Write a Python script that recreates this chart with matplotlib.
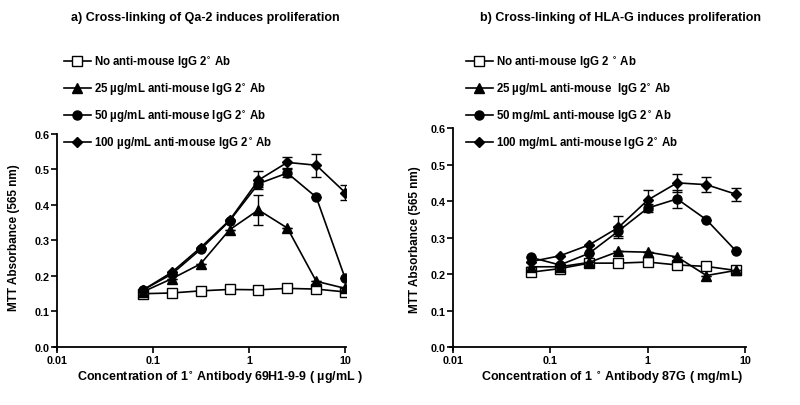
import matplotlib
matplotlib.use("Agg")
import matplotlib.pyplot as plt
import numpy as np

plt.rcParams['font.family'] = ['Liberation Sans', 'DejaVu Sans']
plt.rcParams['font.weight'] = 'bold'
plt.rcParams['mathtext.default'] = 'bf'

# panel a) Qa-2, antibody 69H1-9-9 (ug/mL)
conc_a = [0.078, 0.156, 0.3125, 0.625, 1.25, 2.5, 5, 10]
a_none = [0.150, 0.152, 0.158, 0.162, 0.161, 0.165, 0.163, 0.155]
a_25 = [0.155, 0.192, 0.234, 0.330, 0.386, 0.335, 0.185, 0.165]
a_50 = [0.160, 0.205, 0.275, 0.355, 0.460, 0.490, 0.422, 0.193]
a_100 = [0.160, 0.210, 0.280, 0.357, 0.470, 0.520, 0.512, 0.435]
a_none_err = [0, 0, 0, 0, 0, 0, 0, 0]
a_25_err = [0, 0, 0, 0, 0.042, 0, 0, 0]
a_50_err = [0, 0, 0, 0, 0.010, 0.012, 0, 0]
a_100_err = [0, 0, 0, 0, 0.025, 0.015, 0.032, 0.022]

# panel b) HLA-G, antibody 87G (mg/mL)
conc_b = [0.0625, 0.125, 0.25, 0.5, 1, 2, 4, 8]
b_none = [0.205, 0.215, 0.230, 0.230, 0.233, 0.225, 0.221, 0.210]
b_25 = [0.220, 0.220, 0.232, 0.262, 0.260, 0.247, 0.196, 0.210]
b_50 = [0.246, 0.225, 0.257, 0.318, 0.381, 0.406, 0.349, 0.264]
b_100 = [0.234, 0.250, 0.280, 0.328, 0.403, 0.450, 0.445, 0.419]
b_none_err = [0, 0, 0, 0, 0, 0, 0, 0.008]
b_25_err = [0, 0, 0, 0, 0, 0, 0, 0]
b_50_err = [0, 0, 0, 0.015, 0.012, 0.024, 0, 0]
b_100_err = [0, 0, 0, 0.030, 0.028, 0.025, 0.020, 0.018]

labels_a = ['No anti-mouse IgG 2$^{\\circ}$ Ab',
            '25 µg/mL anti-mouse IgG 2$^{\\circ}$ Ab',
            '50 µg/mL anti-mouse IgG 2$^{\\circ}$ Ab',
            '100 µg/mL anti-mouse IgG 2$^{\\circ}$ Ab']
labels_b = ['No anti-mouse IgG 2 $^{\\circ}$ Ab',
            '25 µg/mL anti-mouse  IgG 2$^{\\circ}$ Ab',
            '50 mg/mL anti-mouse IgG 2$^{\\circ}$ Ab',
            '100 mg/mL anti-mouse IgG 2$^{\\circ}$ Ab']

fig = plt.figure(figsize=(8, 4.06), dpi=100)
ax_a = fig.add_axes([0.0675, 0.136, 0.365, 0.5315])
ax_b = fig.add_axes([0.5625, 0.1355, 0.37, 0.5465])

styles = [dict(marker='s', mfc='white', markersize=6.5), dict(marker='^', mfc='black', markersize=6.5),
          dict(marker='o', mfc='black', markersize=6.5), dict(marker='D', mfc='black', markersize=5.5)]


def draw(ax, conc, series, errs, labels, legend_xy):
    for y, e, lab, st in zip(series, errs, labels, styles):
        ax.errorbar(conc, y, yerr=e, fmt='none', ecolor='black', capsize=3.5,
                    elinewidth=1.0, capthick=1.0)
        ax.plot(conc, y, color='black', mec='black', lw=1.2, label=lab, **st)
    ax.set_xscale('log')
    ax.set_xlim(0.0093, 10.2)
    ax.set_ylim(-0.008, 0.6)
    ax.spines['top'].set_visible(False)
    ax.spines['right'].set_visible(False)
    ax.spines['left'].set_position(('data', 0.01))
    ax.spines['bottom'].set_position(('data', 0))
    for s in ['left', 'bottom']:
        ax.spines[s].set_linewidth(1.3)
    ax.set_xticks([0.01, 0.1, 1, 10])
    ax.set_xticklabels(['0.01', '0.1', '1', '10'])
    ax.xaxis.set_minor_locator(matplotlib.ticker.NullLocator())
    ax.set_yticks(np.arange(0, 0.61, 0.1))
    ax.set_yticklabels(['0.0', '0.1', '0.2', '0.3', '0.4', '0.5', '0.6'])
    ax.tick_params(direction='out', length=4, width=1.2, labelsize=7.8, pad=1.5)
    for t in ax.get_xticklabels() + ax.get_yticklabels():
        t.set_fontweight('bold')
    ax.legend(loc='upper left', bbox_to_anchor=legend_xy, bbox_transform=fig.transFigure,
              frameon=False, fontsize=8.3, handlelength=2.3, handletextpad=0.3,
              labelspacing=0.95, borderpad=0, borderaxespad=0)


draw(ax_a, conc_a, [a_none, a_25, a_50, a_100], [a_none_err, a_25_err, a_50_err, a_100_err],
     labels_a, (64 / 800, 1 - 55 / 406))
draw(ax_b, conc_b, [b_none, b_25, b_50, b_100], [b_none_err, b_25_err, b_50_err, b_100_err],
     labels_b, (466 / 800, 1 - 55 / 406))

fig.text(205 / 800, 1 - 18 / 406, 'a) Cross-linking of Qa-2 induces proliferation',
         ha='center', va='center', fontsize=9, fontweight='bold')
fig.text(620 / 800, 1 - 18 / 406, 'b) Cross-linking of HLA-G induces proliferation',
         ha='center', va='center', fontsize=9, fontweight='bold')

fig.text(14 / 800, 1 - 238 / 406, 'MTT Absorbance (565 nm)', rotation=90,
         ha='center', va='center', fontsize=8.5, fontweight='bold')
fig.text(415 / 800, 1 - 240 / 406, 'MTT Absorbance (565 nm)', rotation=90,
         ha='center', va='center', fontsize=8.5, fontweight='bold')

fig.text(220 / 800, 1 - 378 / 406, 'Concentration of 1$^{\\circ}$ Antibody 69H1-9-9 ( µg/mL )',
         ha='center', va='center', fontsize=9, fontweight='bold')
fig.text(612 / 800, 1 - 378 / 406, 'Concentration of 1 $^{\\circ}$ Antibody 87G ( mg/mL)',
         ha='center', va='center', fontsize=9, fontweight='bold')

fig.savefig('out.png', dpi=100)
